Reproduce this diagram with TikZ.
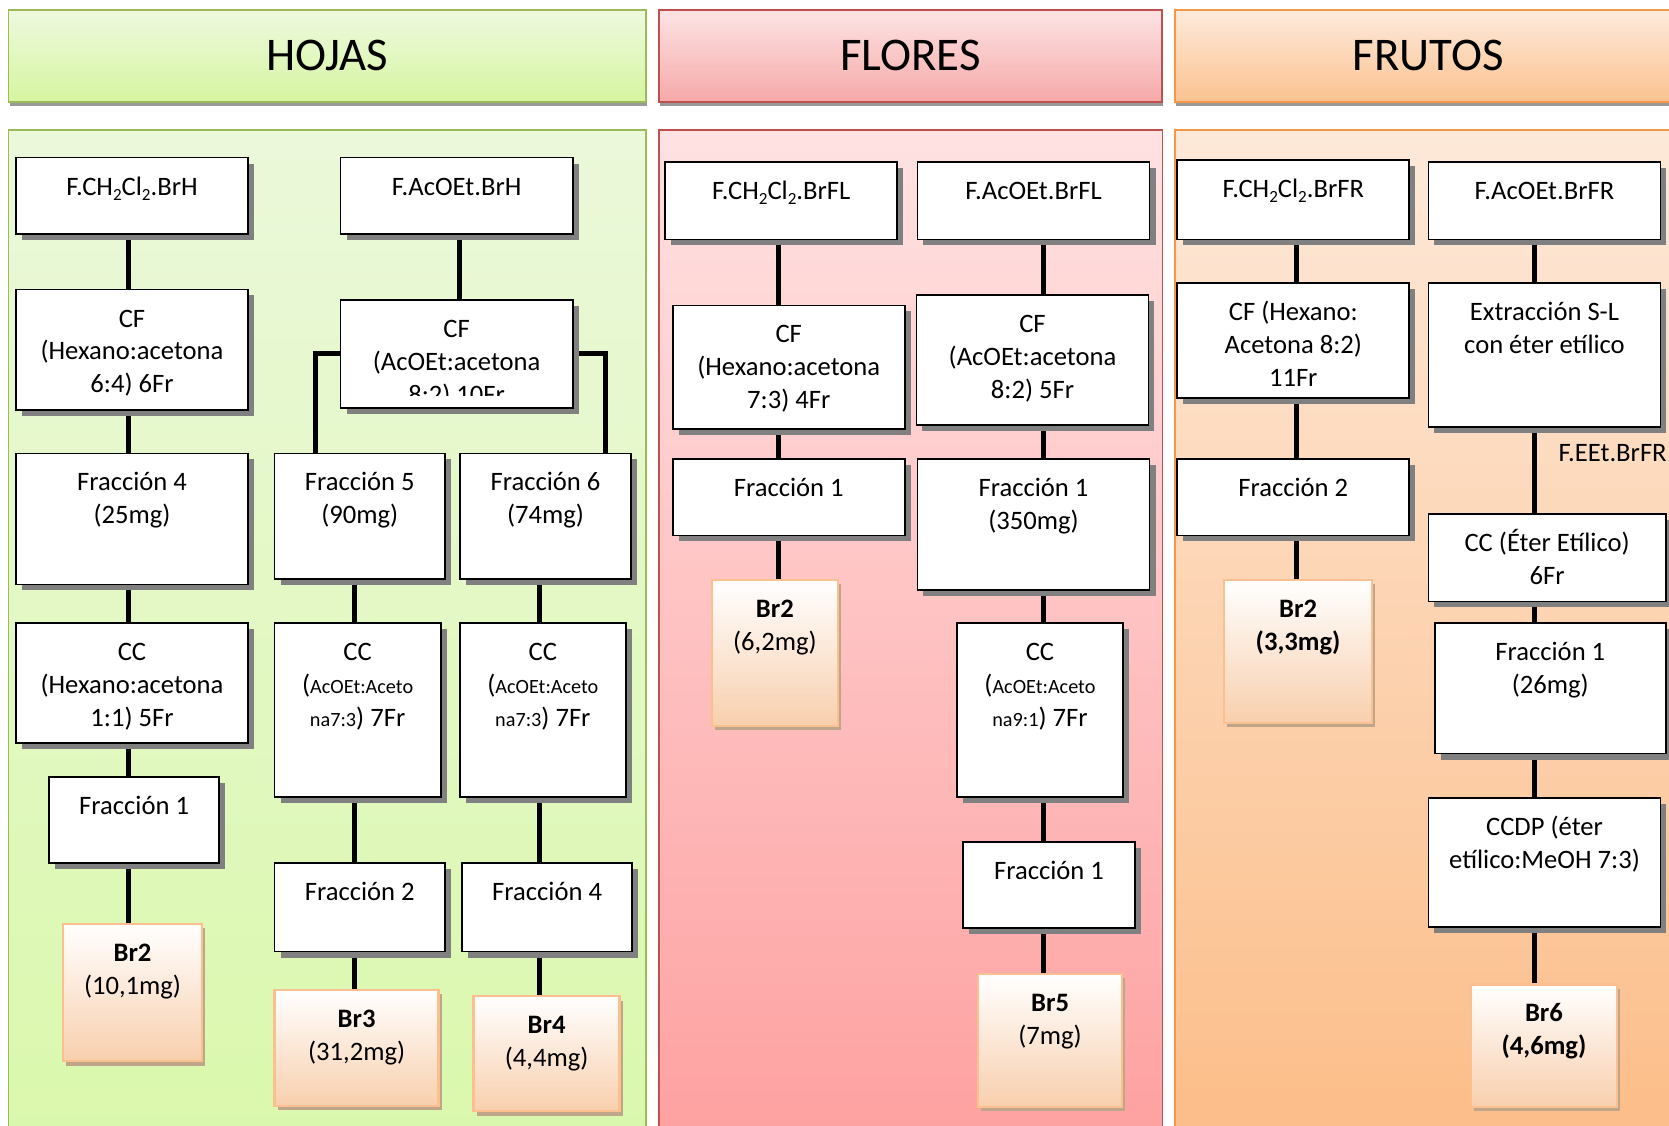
\documentclass[tikz,border=0pt]{standalone}
\usepackage{fontspec}
\setmainfont{Carlito}
\usetikzlibrary{fit,shadows}

\definecolor{hojaEdge}{HTML}{9BBB59}
\definecolor{hojaTop}{HTML}{EEF9DF}
\definecolor{hojaBot}{HTML}{D6F5A0}
\definecolor{hojaPanTop}{HTML}{EBF8DA}
\definecolor{hojaPanBot}{HTML}{DAF8AC}
\definecolor{florEdge}{HTML}{C0504D}
\definecolor{florTop}{HTML}{FDE4E4}
\definecolor{florBot}{HTML}{F6A8A8}
\definecolor{florPanTop}{HTML}{FFE2E2}
\definecolor{florPanBot}{HTML}{FEA0A0}
\definecolor{frutEdge}{HTML}{F79646}
\definecolor{frutTop}{HTML}{FDEADB}
\definecolor{frutBot}{HTML}{FBC290}
\definecolor{frutPanTop}{HTML}{FDE9D9}
\definecolor{frutPanBot}{HTML}{FCBD88}
\definecolor{resEdge}{HTML}{FAC090}
\definecolor{resBot}{HTML}{F8CFAD}
\definecolor{resShadow}{HTML}{BFA58A}

\pgfdeclarelayer{panel}
\pgfdeclarelayer{wire}
\pgfsetlayers{panel,wire,main}

\newcommand\bodyfont{\fontsize{12.5}{15.5}\selectfont}
\newcommand\smallfont{\fontsize{9.5}{15.5}\selectfont}
\newcommand\titlefont{\fontsize{22}{26}\selectfont}
% lowered subscript digit as in CH2Cl2
\newcommand\subtwo{\raisebox{-2.6pt}{\fontsize{8}{8}\selectfont 2}}

\tikzset{
  header/.style={inner sep=0pt, line width=0.9pt},
  titletext/.style={inner sep=0pt, font=\titlefont},
  stepbox/.style={draw=black, fill=white, line width=0.8pt, inner sep=0pt,
    drop shadow={shadow xshift=2.8pt, shadow yshift=-2.8pt, fill=black!50, opacity=1}},
  resbox/.style={draw=resEdge, line width=1.1pt, top color=white, bottom color=resBot, inner sep=0pt,
    drop shadow={shadow xshift=1.5pt, shadow yshift=-2pt, fill=resShadow, opacity=1}},
  boxtext/.style={inner sep=0pt, anchor=base},
  wire/.style={line width=2.4pt, draw=black},
}

% \stage{name}{x1}{y1}{x2}{y2}{style}{text}: framed box with its text set near the top
\newcommand\stage[7]{%
  \node[#6, fit={(#2,#3) (#4,#5)}] (#1) {};
  \node[boxtext] (#1-t) at ([yshift=-18pt]#1.north)
    {\parbox[t]{130pt}{\centering\bodyfont #7}};
}

\begin{document}
\begin{tikzpicture}[x=0.5pt, y=-0.5pt]
\useasboundingbox (0,0) rectangle (1568,1057);

% ---------- backgrounds ----------
\begin{pgfonlayer}{panel}
  \fill[white] (0,0) rectangle (1568,1057);
  \fill[black!40] (9,96) rectangle (608,99.5);
  \fill[black!40] (620,96) rectangle (1093,99.5);
  \fill[black!40] (1105,96) rectangle (1580,99.5);
  \shade[top color=hojaPanTop, bottom color=hojaPanBot] (8,122) rectangle (607,1075);
  \draw[hojaEdge, line width=0.7pt] (8,122) rectangle (607,1075);
  \shade[top color=florPanTop, bottom color=florPanBot] (619,122) rectangle (1092,1075);
  \draw[florEdge, line width=0.7pt] (619,122) rectangle (1092,1075);
  \shade[top color=frutPanTop, bottom color=frutPanBot] (1104,122) rectangle (1590,1075);
  \draw[frutEdge, line width=0.7pt] (1104,122) rectangle (1590,1075);
\end{pgfonlayer}

% ---------- headers ----------
\node[header, draw=hojaEdge, top color=hojaTop, bottom color=hojaBot, fit={(8,9) (607,96)}] (hoja) {};
\node[titletext] (hoja-t) at (hoja.center) {HOJAS};
\node[header, draw=florEdge, top color=florTop, bottom color=florBot, fit={(619,9) (1092,96)}] (flor) {};
\node[titletext] (flor-t) at (flor.center) {FLORES};
\node[header, draw=frutEdge, top color=frutTop, bottom color=frutBot, fit={(1104,9) (1580,96)}] (frut) {};
\node[titletext] (frut-t) at (frut.center) {FRUTOS};

% ---------- HOJAS ----------
\stage{h1}{15}{148}{233}{220}{stepbox}{F.CH\subtwo Cl\subtwo.BrH}
\stage{h2}{320}{148}{538}{220}{stepbox}{F.AcOEt.BrH}
\stage{h3}{15}{272}{233}{385}{stepbox}{CF\\(Hexano:acetona\\6:4) 6Fr}
\node[stepbox, fit={(320,282) (538,383)}] (h4) {};
\begin{scope}
  \clip (320,282) rectangle (538,372);
  \node[boxtext] (h4-t) at ([yshift=-18pt]h4.north)
    {\parbox[t]{130pt}{\centering\bodyfont CF\\(AcOEt:acetona\\8:2) 10Fr}};
\end{scope}
\stage{h5}{15}{426}{233}{549}{stepbox}{Fracción 4\\(25mg)}
\stage{h6}{258}{426}{418}{544}{stepbox}{Fracción 5\\(90mg)}
\stage{h7}{432}{426}{593}{544}{stepbox}{Fracción 6\\(74mg)}
\stage{h8}{15}{585}{233}{698}{stepbox}{CC\\(Hexano:acetona\\1:1) 5Fr}
\stage{h9}{258}{585}{414}{749}{stepbox}{CC\\({\smallfont AcOEt:Aceto}\\{\smallfont na7:3}) 7Fr}
\stage{h10}{432}{585}{588}{749}{stepbox}{CC\\({\smallfont AcOEt:Aceto}\\{\smallfont na7:3}) 7Fr}
\stage{h11}{46}{730}{206}{811}{stepbox}{Fracción 1}
\stage{h12}{258}{811}{418}{894}{stepbox}{Fracción 2}
\stage{h13}{434}{811}{594}{894}{stepbox}{Fracción 4}
\stage{h14}{59}{868}{190}{997}{resbox}{\textbf{Br2}\\(10,1mg)}
\stage{h15}{258}{930}{412}{1039}{resbox}{\textbf{Br3}\\(31,2mg)}
\stage{h16}{445}{936}{582}{1044}{resbox}{\textbf{Br4}\\(4,4mg)}

% ---------- FLORES ----------
\stage{f1}{625}{152}{843}{225}{stepbox}{F.CH\subtwo Cl\subtwo.BrFL}
\stage{f2}{862}{152}{1080}{225}{stepbox}{F.AcOEt.BrFL}
\stage{f3}{632}{287}{850}{403}{stepbox}{CF\\(Hexano:acetona\\7:3) 4Fr}
\stage{f4}{861}{277}{1079}{399}{stepbox}{CF\\(AcOEt:acetona\\8:2) 5Fr}
\stage{f5}{632}{431}{850}{503}{stepbox}{Fracción 1}
\stage{f6}{862}{431}{1080}{554}{stepbox}{Fracción 1\\(350mg)}
\stage{f7}{669}{545}{787}{682}{resbox}{\textbf{Br2}\\(6,2mg)}
\stage{f8}{899}{585}{1055}{749}{stepbox}{CC\\({\smallfont AcOEt:Aceto}\\{\smallfont na9:1}) 7Fr}
\stage{f9}{905}{791}{1066}{872}{stepbox}{Fracción 1}
\stage{f10}{919}{915}{1054}{1040}{resbox}{\textbf{Br5}\\(7mg)}

% ---------- FRUTOS ----------
\stage{r1}{1106}{150}{1324}{225}{stepbox}{F.CH\subtwo Cl\subtwo.BrFR}
\stage{r2}{1342}{152}{1560}{225}{stepbox}{F.AcOEt.BrFR}
\stage{r3}{1106}{266}{1324}{374}{stepbox}{CF (Hexano:\\Acetona 8:2)\\11Fr}
\stage{r4}{1342}{266}{1560}{401}{stepbox}{Extracción S-L\\con éter etílico}
\stage{r5}{1106}{431}{1324}{503}{stepbox}{Fracción 2}
\stage{r6}{1342}{483}{1565}{565}{stepbox}{CC (Éter Etílico)\\6Fr}
\stage{r7}{1348}{585}{1565}{708}{stepbox}{Fracción 1\\(26mg)}
\stage{r8}{1342}{750}{1560}{871}{stepbox}{CCDP (éter\\etílico:MeOH 7:3)}
\stage{r9}{1150}{545}{1289}{679}{resbox}{\textbf{Br2}\\\textbf{(3,3mg)}}
\stage{r10}{1382}{925}{1519}{1040}{resbox}{\textbf{Br6}\\\textbf{(4,6mg)}}
\node[boxtext, font=\bodyfont] (feet) at (1515,434) {F.EEt.BrFR};

% ---------- connectors ----------
\coordinate (hx1) at (121,0);
\coordinate (hx2) at (432,0);
\coordinate (hx3) at (333,0);
\coordinate (hx4) at (507,0);
\coordinate (hl) at (296,0);
\coordinate (hr) at (569,0);
\coordinate (fx1) at (731,0);
\coordinate (fx2) at (980,0);
\coordinate (rx1) at (1218,0);
\coordinate (rx2) at (1442,0);

\begin{pgfonlayer}{wire}
  \foreach \a/\b in {h1/h3,h3/h5,h5/h8,h8/h11,h11/h14}
    \draw[wire] (\a -| hx1) -- (\b -| hx1);
  \draw[wire] (h2 -| hx2) -- (h4 -| hx2);
  \draw[wire] (h4) -| (h6 -| hl);
  \draw[wire] (h4) -| (h7 -| hr);
  \foreach \a/\b in {h6/h9,h9/h12,h12/h15}
    \draw[wire] (\a -| hx3) -- (\b -| hx3);
  \foreach \a/\b in {h7/h10,h10/h13,h13/h16}
    \draw[wire] (\a -| hx4) -- (\b -| hx4);
  \foreach \a/\b in {f1/f3,f3/f5,f5/f7}
    \draw[wire] (\a -| fx1) -- (\b -| fx1);
  \foreach \a/\b in {f2/f4,f4/f6,f6/f8,f8/f9,f9/f10}
    \draw[wire] (\a -| fx2) -- (\b -| fx2);
  \foreach \a/\b in {r1/r3,r3/r5,r5/r9}
    \draw[wire] (\a -| rx1) -- (\b -| rx1);
  \foreach \a/\b in {r2/r4,r4/r6,r6/r7,r7/r8,r8/r10}
    \draw[wire] (\a -| rx2) -- (\b -| rx2);
\end{pgfonlayer}
\end{tikzpicture}
\end{document}
